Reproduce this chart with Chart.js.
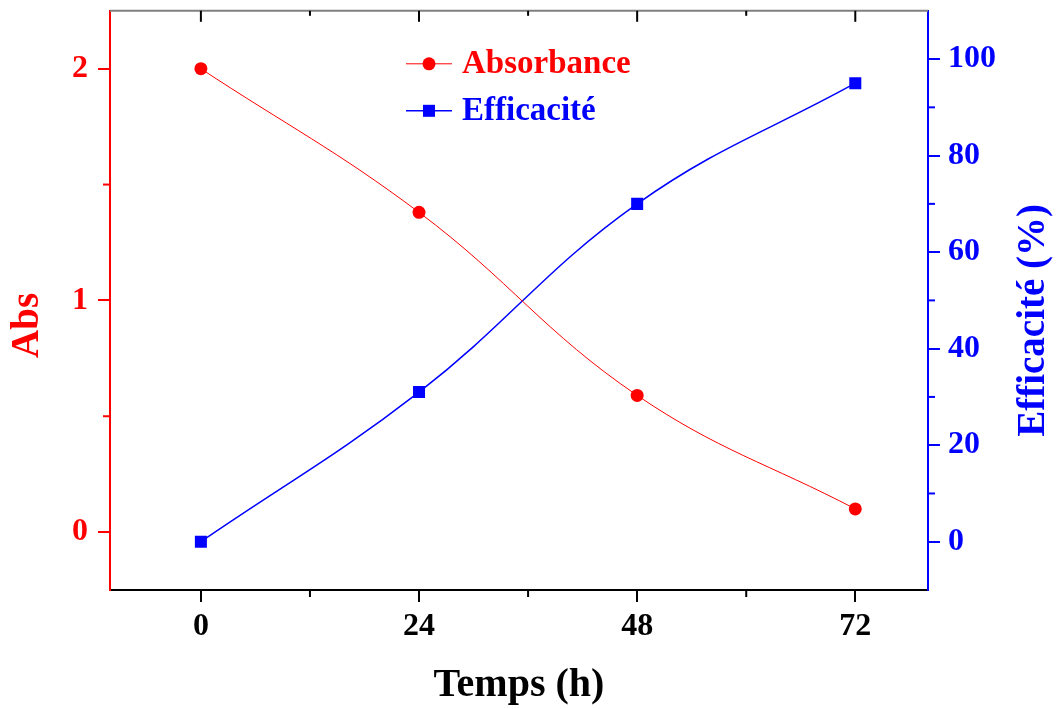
<!DOCTYPE html>
<html>
<head>
<meta charset="utf-8">
<script src="https://cdn.jsdelivr.net/npm/chart.js@4.4.0/dist/chart.umd.min.js"></script>
<style>
  html, body { margin: 0; padding: 0; background: #fff; }
  #wrap { width: 1056px; height: 709px; }
</style>
</head>
<body>
<div id="wrap"><canvas id="chart" width="1056" height="709"></canvas></div>
<script>
// data
const hours = [0, 24, 48, 72];
const absValues = [2.0, 1.38, 0.59, 0.10];
const effValues = [0, 31, 70, 95];

const xTicks = [0, 24, 48, 72];
const absTicks = [0, 1, 2];
const effTicks = [0, 20, 40, 60, 80, 100];

const serif = "'Liberation Serif', 'Times New Roman', serif";
const RED = '#ff0000';
const BLUE = '#0000ff';

const tickFont = { family: serif, size: 32, weight: 'bold' };
// y labels are drawn centred on the tick, tiny line height keeps them from padding the top
const yTickFont = { family: serif, size: 32, weight: 'bold', lineHeight: 0.05 };

// midpoints between major ticks -> minor ticks
function minorOf(list) {
    const out = [];
    for (let i = 0; i < list.length - 1; i++) out.push((list[i] + list[i + 1]) / 2);
    return out;
}

const framePlugin = {
    id: 'frame',
    afterDraw(chart) {
        const ctx = chart.ctx;
        const a = chart.chartArea;
        const xs = chart.scales.x, yl = chart.scales.yAbs, yr = chart.scales.yEff;
        ctx.save();

        // top border, grey, with inward ticks
        ctx.strokeStyle = '#808080';
        ctx.lineWidth = 2;
        ctx.beginPath();
        ctx.moveTo(a.left, a.top);
        ctx.lineTo(a.right, a.top);
        ctx.stroke();
        ctx.strokeStyle = '#000';
        xTicks.forEach(v => {
            const px = xs.getPixelForValue(v);
            ctx.beginPath(); ctx.moveTo(px, a.top); ctx.lineTo(px, a.top + 11); ctx.stroke();
        });
        minorOf(xTicks).forEach(v => {
            const px = xs.getPixelForValue(v);
            ctx.beginPath(); ctx.moveTo(px, a.top); ctx.lineTo(px, a.top + 5); ctx.stroke();
        });

        // minor ticks on the outer axes
        ctx.strokeStyle = '#000';
        minorOf(xTicks).forEach(v => {
            const px = xs.getPixelForValue(v);
            ctx.beginPath(); ctx.moveTo(px, a.bottom); ctx.lineTo(px, a.bottom + 7); ctx.stroke();
        });
        ctx.strokeStyle = RED;
        minorOf(absTicks).forEach(v => {
            const py = yl.getPixelForValue(v);
            ctx.beginPath(); ctx.moveTo(a.left, py); ctx.lineTo(a.left - 7, py); ctx.stroke();
        });
        ctx.strokeStyle = BLUE;
        minorOf(effTicks).forEach(v => {
            const py = yr.getPixelForValue(v);
            ctx.beginPath(); ctx.moveTo(a.right, py); ctx.lineTo(a.right + 7, py); ctx.stroke();
        });

        // axis titles
        const midY = (a.top + a.bottom) / 2;
        ctx.font = 'bold 40px ' + serif;
        ctx.textAlign = 'center';
        ctx.textBaseline = 'middle';
        ctx.fillStyle = '#000';
        ctx.fillText('Temps (h)', (a.left + a.right) / 2, 686);

        ctx.font = 'bold 39px ' + serif;
        ctx.save();
        ctx.translate(28, midY + 25);
        ctx.rotate(-Math.PI / 2);
        ctx.fillStyle = RED;
        ctx.fillText('Abs', 0, 0);
        ctx.restore();

        ctx.save();
        ctx.translate(1034, midY + 20);
        ctx.rotate(-Math.PI / 2);
        ctx.fillStyle = BLUE;
        ctx.fillText('Efficacité (%)', 0, 0);
        ctx.restore();

        // legend inside the plot
        chart.data.datasets.forEach((ds, i) => {
            const lx = a.left + 296;
            const ly = a.top + 53 + i * 47;
            ctx.strokeStyle = ds.borderColor;
            ctx.lineWidth = ds.borderWidth;
            ctx.beginPath(); ctx.moveTo(lx, ly); ctx.lineTo(lx + 46, ly); ctx.stroke();
            ctx.fillStyle = ds.backgroundColor;
            if (ds.pointStyle === 'circle') {
                ctx.beginPath(); ctx.arc(lx + 23, ly, 6.5, 0, Math.PI * 2); ctx.fill();
            } else {
                ctx.fillRect(lx + 17, ly - 6, 12, 12);
            }
            ctx.font = 'bold 33px ' + serif;
            ctx.textAlign = 'left';
            ctx.fillStyle = ds.borderColor;
            ctx.fillText(ds.label, lx + 56, ly + 1);
        });

        ctx.restore();
    }
};

new Chart(document.getElementById('chart'), {
    type: 'line',
    data: {
        datasets: [
            {
                label: 'Absorbance',
                data: hours.map((h, i) => ({ x: h, y: absValues[i] })),
                yAxisID: 'yAbs',
                borderColor: RED,
                backgroundColor: RED,
                borderWidth: 1,
                pointStyle: 'circle',
                pointRadius: 6.5,
                pointBorderWidth: 0,
                tension: 0.4
            },
            {
                label: 'Efficacité',
                data: hours.map((h, i) => ({ x: h, y: effValues[i] })),
                yAxisID: 'yEff',
                borderColor: BLUE,
                backgroundColor: BLUE,
                borderWidth: 1.5,
                pointStyle: 'rect',
                pointRadius: 8.5,
                pointBorderWidth: 0,
                tension: 0.4
            }
        ]
    },
    options: {
        responsive: false,
        animation: false,
        layout: { padding: { top: 10, left: 0, right: 0, bottom: 0 } },
        plugins: { legend: { display: false }, tooltip: { enabled: false } },
        scales: {
            x: {
                type: 'linear',
                position: 'bottom',
                min: -10,
                max: 80,
                afterBuildTicks: s => { s.ticks = xTicks.map(v => ({ value: v })); },
                afterFit: s => { s.height = 119; },
                grid: { drawOnChartArea: false, tickLength: 12, color: '#000', lineWidth: 2 },
                border: { color: '#000', width: 2 },
                ticks: { font: tickFont, color: '#000', padding: 6, maxRotation: 0 }
            },
            yAbs: {
                type: 'linear',
                position: 'left',
                min: -0.25,
                max: 2.25,
                afterBuildTicks: s => { s.ticks = absTicks.map(v => ({ value: v })); },
                afterFit: s => { s.width = 110; },
                grid: { drawOnChartArea: false, tickLength: 12, color: RED, lineWidth: 2 },
                border: { color: RED, width: 2 },
                ticks: { font: yTickFont, color: RED, padding: 10 }
            },
            yEff: {
                type: 'linear',
                position: 'right',
                min: -10,
                max: 110,
                afterBuildTicks: s => { s.ticks = effTicks.map(v => ({ value: v })); },
                afterFit: s => { s.width = 128; },
                grid: { drawOnChartArea: false, tickLength: 12, color: BLUE, lineWidth: 2 },
                border: { color: BLUE, width: 2 },
                ticks: { font: yTickFont, color: BLUE, padding: 8 }
            }
        }
    },
    plugins: [framePlugin]
});
</script>
</body>
</html>
